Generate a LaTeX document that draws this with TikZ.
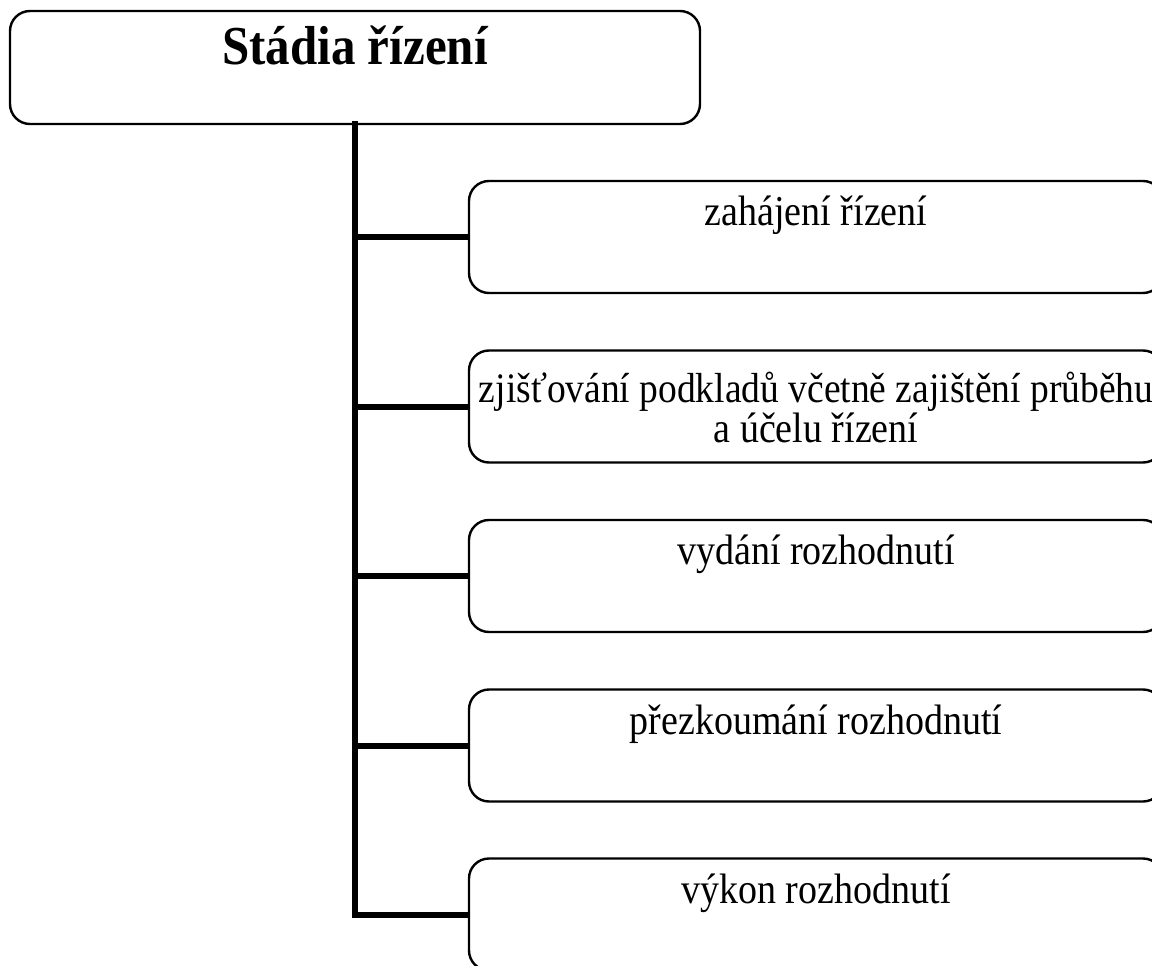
\documentclass[tikz,border=0pt]{standalone}
\usepackage{fontspec}
\setmainfont{Liberation Serif}
\usetikzlibrary{calc}
\newcommand{\tallt}[1]{\scalebox{1}[1.12]{#1}}
\tikzset{
  rootbox/.style={draw=black, line width=2.4pt, rounded corners=20pt, minimum width=690pt, minimum height=113pt, inner sep=0pt},
  childbox/.style={draw=black, line width=2.4pt, rounded corners=20pt, minimum width=694pt, minimum height=112pt, inner sep=0pt},
  roottext/.style={font=\fontsize{49}{54}\selectfont\bfseries, anchor=base, inner sep=0pt},
  childtext/.style={font=\fontsize{38}{38}\selectfont, anchor=base, inner sep=0pt, align=center},
  conn/.style={line width=6pt, line cap=rect}
}
\begin{document}
\begin{tikzpicture}[x=1pt,y=-1pt]
\useasboundingbox (0,0) rectangle (1152,966);
\clip (0,0) rectangle (1152,966);
% root
\node[rootbox] (root) at (355,67.5) {};
\node[roottext] (roott) at ($(root.north)+(0,55)$) {\tallt{Stádia řízení}};
% children
\node[childbox] (c1) at (816,237) {};
\node[childbox] (c2) at (816,406.5) {};
\node[childbox] (c3) at (816,576) {};
\node[childbox] (c4) at (816,745.5) {};
\node[childbox] (c5) at (816,914.5) {};
\node[childtext] (t1) at ($(c1.north)+(0,46)$) {\tallt{zahájení řízení}};
\node[childtext] (t2) at ($(c2.north)+(0,53)$) {\tallt{\fontsize{37.5}{38}\selectfont zjišťování podkladů včetně zajištění průběhu}};
\node[childtext] (t2b) at ($(c2.north)+(0,93)$) {\tallt{a účelu řízení}};
\node[childtext] (t3) at ($(c3.north)+(0,46)$) {\tallt{vydání rozhodnutí}};
\node[childtext] (t4) at ($(c4.north)+(0,46)$) {\tallt{přezkoumání rozhodnutí}};
\node[childtext] (t5) at ($(c5.north)+(0,46)$) {\tallt{výkon rozhodnutí}};
% connectors
\coordinate (top) at (355,124);
\coordinate (bot) at (355,914.5);
\draw[conn] (top) -- (bot);
\foreach \c in {c1,c2,c3,c4,c5} {
  \draw[conn, line cap=butt] (top |- \c.west) -- (\c.west);
}
\end{tikzpicture}
\end{document}
